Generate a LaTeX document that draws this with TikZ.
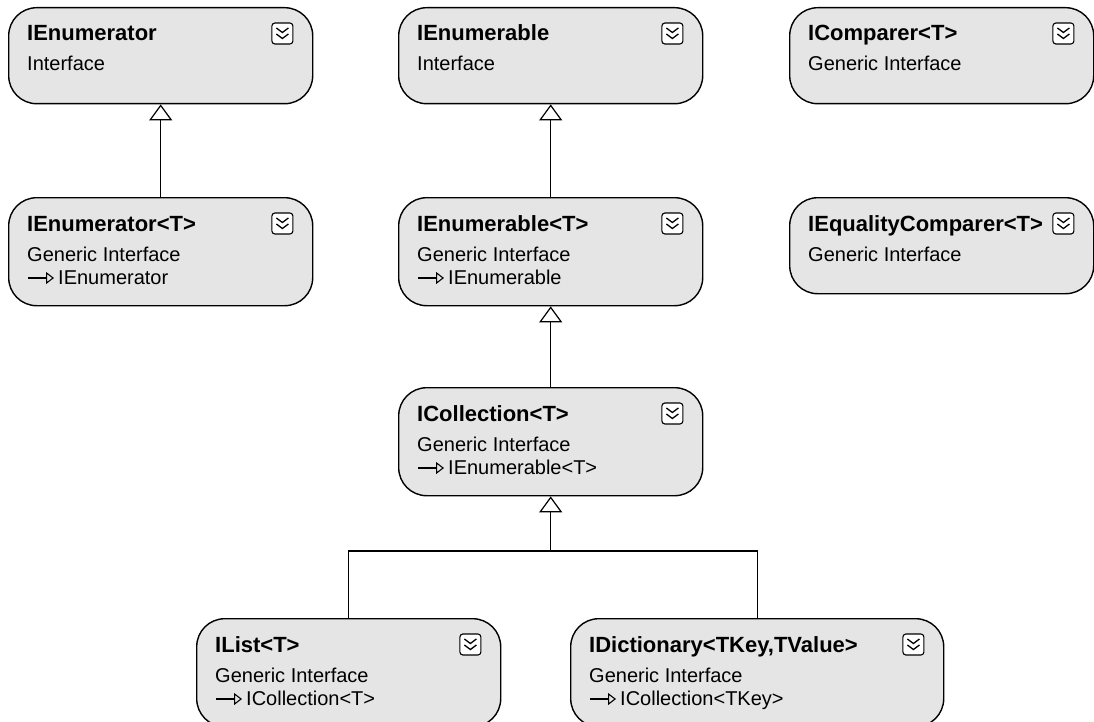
\documentclass[tikz,border=0pt]{standalone}
\usepackage{fontspec}
\setmainfont{Liberation Sans}
\usetikzlibrary{arrows.meta,calc}
\definecolor{boxfill}{RGB}{229,229,229}
\tikzset{
  ibox/.style={draw=black, fill=boxfill, line width=1.4pt, rounded corners=28pt,
               anchor=north west, inner sep=0pt},
  titletext/.style={anchor=base west, inner sep=0pt, font=\fontsize{22}{26}\selectfont\bfseries},
  subtext/.style={anchor=base west, inner sep=0pt, font=\fontsize{20}{24}\selectfont},
  chev/.style={draw=black, fill=white, line width=1.1pt, rounded corners=3pt,
               minimum size=21pt, inner sep=0pt},
  inherit/.style={line width=1.4pt, -{Triangle[open, length=16pt, width=23pt, line width=1.2pt]}},
  impl/.style={line width=1.2pt, -{Triangle[open, length=8pt, width=12pt, line width=1.1pt]}},
  link/.style={line width=1.4pt},
}
% interface box: name, x, y, width, height, title, kind
\newcommand\ifbox[7]{%
  \node[ibox, minimum width=#4pt, minimum height=#5pt] (#1) at (#2,#3) {};
  \node[titletext] (#1-title) at ($(#1.north west)+(19,34)$) {#6};
  \node[subtext] (#1-kind) at ($(#1.north west)+(19,64)$) {#7};
  \node[chev] (#1-icon) at ($(#1.north east)+(-31,26.5)$) {};
  \draw[line width=1.3pt] ($(#1-icon.center)+(-6,-5.5)$) -- ++(6,4.5) -- ++(6,-4.5)
                          ($(#1-icon.center)+(-6,0.5)$) -- ++(6,4.5) -- ++(6,-4.5);
}
% implemented interface line: box name, text
\newcommand\implements[2]{%
  \coordinate (#1-ia) at ($(#1.north west)+(20,81)$);
  \coordinate (#1-ib) at ($(#1.north west)+(46,81)$);
  \draw[impl] (#1-ia) -- (#1-ib);
  \node[subtext] (#1-impl) at ($(#1.north west)+(50,87)$) {#2};
}
\begin{document}
\begin{tikzpicture}[x=1pt, y=-1pt]
  \clip (0,0) rectangle (1094,722);
  \fill[white] (0,0) rectangle (1094,722);

  \ifbox{ienum}{8}{7}{304}{96}{IEnumerator}{Interface}
  \ifbox{ienumbl}{398}{7}{304}{96}{IEnumerable}{Interface}
  \ifbox{icmp}{789}{7}{304}{96}{IComparer<T>}{Generic Interface}

  \ifbox{ienumt}{8}{197}{304}{108}{IEnumerator<T>}{Generic Interface}
  \implements{ienumt}{IEnumerator}
  \ifbox{ienumblt}{398}{197}{304}{108}{IEnumerable<T>}{Generic Interface}
  \implements{ienumblt}{IEnumerable}
  \ifbox{ieqcmp}{789}{197}{304}{96}{IEqualityComparer<T>}{Generic Interface}

  \ifbox{icoll}{398}{387}{304}{108}{ICollection<T>}{Generic Interface}
  \implements{icoll}{IEnumerable<T>}

  \ifbox{ilist}{196}{618}{304}{108}{IList<T>}{Generic Interface}
  \implements{ilist}{ICollection<T>}
  \ifbox{idict}{570}{618}{373}{108}{IDictionary<TKey,TValue>}{Generic Interface}
  \implements{idict}{ICollection<TKey>}

  % inheritance connectors
  \draw[inherit] (ienumt.north) -- (ienum.south);
  \draw[inherit] (ienumblt.north) -- (ienumbl.south);
  \draw[inherit] (icoll.north) -- (ienumblt.south);
  \coordinate (join) at (icoll.south |- 0,551);
  \draw[link] (ilist.north) |- (join) -| (idict.north);
  \draw[inherit] (join) -- (icoll.south);
\end{tikzpicture}
\end{document}
